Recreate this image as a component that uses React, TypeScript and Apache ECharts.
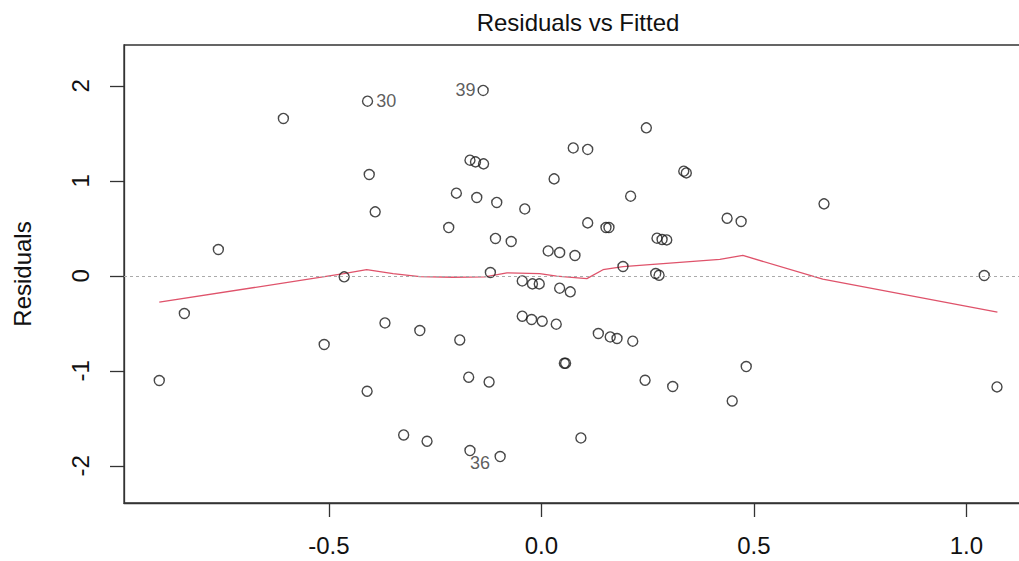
import React, { useEffect, useRef } from "react";
import * as echarts from "echarts";

// Fitted values (x) and residuals (y)
const fittedValues = [
  -0.899, -0.84, -0.76, -0.607, -0.511, -0.464, -0.409, -0.405, -0.41, -0.391,
  -0.368, -0.324, -0.286, -0.269, -0.218, -0.2, -0.192, -0.171, -0.168, -0.155,
  -0.136, -0.168, -0.152, -0.137, -0.123, -0.12, -0.108, -0.105, -0.097, -0.071,
  -0.045, -0.045, -0.039, -0.021, -0.005, -0.023, 0.002, 0.016, 0.03, 0.035,
  0.043, 0.043, 0.054, 0.057, 0.068, 0.075, 0.079, 0.093, 0.109, 0.109,
  0.134, 0.152, 0.159, 0.162, 0.178, 0.192, 0.21, 0.215, 0.244, 0.247,
  0.269, 0.277, 0.272, 0.284, 0.295, 0.309, 0.335, 0.341, 0.437, 0.449,
  0.47, 0.482, 0.665, 1.042, 1.072,
];
const residualValues = [
  -1.101, -0.396, 0.278, 1.657, -0.722, -0.01, 1.839, 1.067, -1.214, 0.674,
  -0.495, -1.674, -0.575, -1.74, 0.509, 0.871, -0.674, -1.066, 1.218, 1.2,
  1.179, -1.838, 0.825, 1.952, -1.116, 0.036, 0.394, 0.773, -1.901, 0.362,
  -0.053, -0.424, 0.705, -0.084, -0.084, -0.459, -0.477, 0.263, 1.021, -0.508,
  0.246, -0.129, -0.919, -0.919, -0.168, 1.347, 0.215, -1.705, 1.331, 0.558,
  -0.606, 0.509, 0.509, -0.642, -0.659, 0.099, 0.839, -0.687, -1.098, 1.558,
  0.025, 0.007, 0.397, 0.383, 0.379, -1.164, 1.102, 1.084, 0.607, -1.316,
  0.573, -0.954, 0.758, 0.004, -1.168,
];

// Identified observations (index into the arrays above -> observation id)
const labeledIndex = [6, 23, 21];
const labeledIds = ["30", "39", "36"];

// Smoothed (lowess) curve
const lowessX = [
  -0.899, -0.465, -0.411, -0.349, -0.286, -0.208, -0.133, -0.081, -0.004, 0.036,
  0.107, 0.145, 0.192, 0.42, 0.474, 0.662, 1.073,
];
const lowessY = [
  -0.277, 0.023, 0.067, 0.025, -0.008, -0.014, -0.011, 0.032, 0.025, -0.003,
  -0.029, 0.065, 0.097, 0.173, 0.215, -0.035, -0.382,
];

const xTicks = [-0.5, 0.0, 0.5, 1.0];
const yTicks = [-2, -1, 0, 1, 2];

const FONT = "Liberation Sans, Arial, sans-serif";

// label placement styling for identified points
const labelStyle: Record<string, any> = {
  "30": { position: "right", distance: 3 },
  "39": { position: "left", distance: 2 },
  "36": { position: "bottom", distance: -2, offset: [10, 0] },
};

export default function App() {
  const ref = useRef<HTMLDivElement>(null);

  useEffect(() => {
    if (!ref.current) return;
    const chart = echarts.init(ref.current, null, { renderer: "svg" });

    const scatterData = fittedValues.map((x, i) => {
      const k = labeledIndex.indexOf(i);
      if (k >= 0) {
        const id = labeledIds[k];
        return {
          value: [x, residualValues[i]],
          label: {
            show: true,
            formatter: id,
            color: "#333",
            fontSize: 18,
            fontFamily: FONT,
            ...labelStyle[id],
          },
        };
      }
      return { value: [x, residualValues[i]] };
    });

    chart.setOption({
      animation: false,
      backgroundColor: "#ffffff",
      graphic: [
        {
          type: "text",
          x: 578,
          y: 22,
          style: {
            text: "Residuals vs Fitted",
            align: "center",
            verticalAlign: "middle",
            fontSize: 24,
            fontFamily: FONT,
            fill: "#111",
          },
        },
      ],
      grid: {
        left: 124,
        top: 45,
        width: 907,
        height: 458,
        show: true,
        borderColor: "#333",
        borderWidth: 1.3,
        backgroundColor: "transparent",
      },
      xAxis: {
        type: "value",
        min: -0.982,
        max: 1.152,
        splitLine: { show: false },
        axisLine: { show: true, onZero: false, lineStyle: { color: "#333", width: 1.3 } },
        axisTick: {
          show: true,
          length: 14,
          customValues: xTicks,
          lineStyle: { color: "#333", width: 1.3 },
        },
        axisLabel: {
          customValues: xTicks,
          formatter: (v: number) => v.toFixed(1),
          fontSize: 24,
          fontFamily: FONT,
          color: "#111",
          margin: 30,
        },
      },
      yAxis: {
        type: "value",
        min: -2.39,
        max: 2.43,
        name: "Residuals",
        nameLocation: "middle",
        nameRotate: 90,
        nameGap: 90,
        nameTextStyle: { fontSize: 24, fontFamily: FONT, color: "#111" },
        splitLine: { show: false },
        axisLine: { show: true, onZero: false, lineStyle: { color: "#333", width: 1.3 } },
        axisTick: {
          show: true,
          length: 14,
          customValues: yTicks,
          lineStyle: { color: "#333", width: 1.3 },
        },
        axisLabel: {
          customValues: yTicks,
          rotate: 90,
          fontSize: 24,
          fontFamily: FONT,
          color: "#111",
          margin: 32,
        },
      },
      series: [
        {
          type: "line",
          data: lowessX.map((x, i) => [x, lowessY[i]]),
          showSymbol: false,
          symbol: "none",
          lineStyle: { color: "#DF536B", width: 1.3 },
          z: 2,
          markLine: {
            silent: true,
            symbol: ["none", "none"],
            label: { show: false },
            lineStyle: { type: [3, 3], color: "#aaa", width: 1 },
            data: [{ yAxis: 0 }],
          },
        },
        {
          type: "scatter",
          data: scatterData,
          symbol: "circle",
          symbolSize: 10,
          itemStyle: {
            color: "rgba(0,0,0,0)",
            borderColor: "#1a1a1a",
            borderWidth: 1.4,
          },
          z: 3,
        },
      ],
    });

    return () => chart.dispose();
  }, []);

  return (
    <div
      style={{
        position: "fixed",
        left: 0,
        top: 0,
        width: 1019,
        height: 561,
        overflow: "hidden",
        background: "#fff",
      }}
    >
      <div ref={ref} style={{ width: 1050, height: 561 }} />
    </div>
  );
}
